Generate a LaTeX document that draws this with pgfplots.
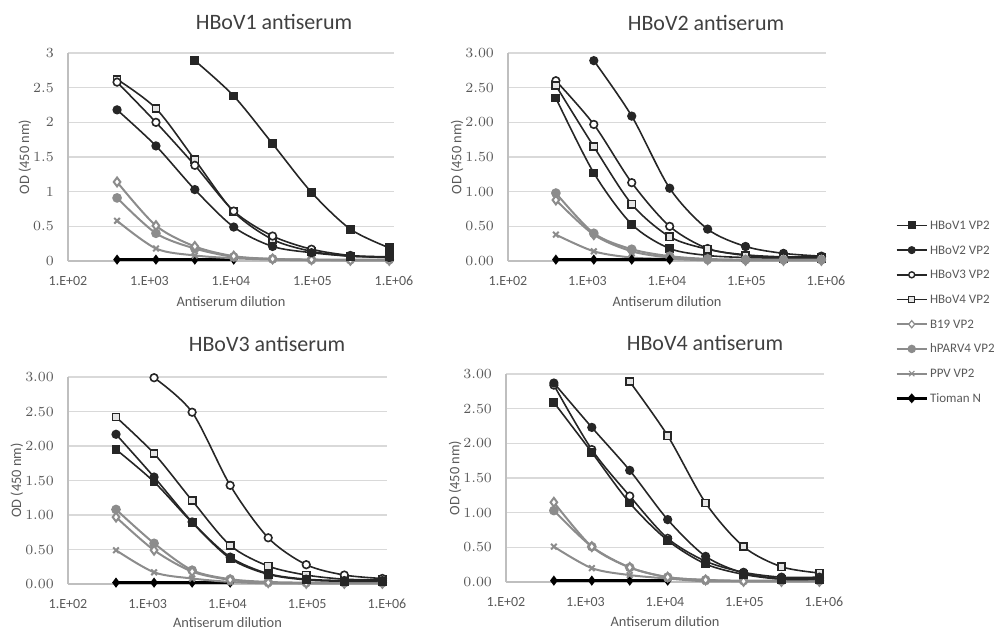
\documentclass[border=0pt]{standalone}
\usepackage{fontspec}
\setmainfont{Carlito}
\usepackage{pgfplots}
\usepackage{pgfplotstable}
\pgfplotsset{compat=1.18}

\definecolor{linedark}{HTML}{262626}
\definecolor{linegray}{HTML}{8C8C8C}
\definecolor{gridgray}{HTML}{D9D9D9}
\definecolor{axisgray}{HTML}{BFBFBF}
\definecolor{labgray}{HTML}{595959}
\definecolor{titlegray}{HTML}{404040}

\newcommand{\tickfont}{\fontsize{7}{8}\selectfont}
\newcommand{\labfont}{\fontsize{7.2}{8}\selectfont}
\newcommand{\legfont}{\fontsize{6.5}{7.5}\selectfont}
\newcommand{\titlefont}{\fontsize{11}{13}\selectfont}

% dilution  HBoV1 HBoV2 HBoV3 HBoV4 B19 hPARV4 PPV Tioman
\pgfplotstableread{
x      V1   V2   V3   V4   B19  P4   PPV  TN
400    nan  2.18 2.58 2.62 1.14 0.91 0.58 0.02
1200   nan  1.66 2.00 2.20 0.51 0.40 0.18 0.02
3600   2.89 1.03 1.38 1.46 0.21 0.18 0.08 0.02
10800  2.38 0.49 0.72 0.71 0.07 0.06 0.04 0.02
32400  1.69 0.21 0.36 0.31 0.03 0.03 0.02 nan
97200  0.99 0.12 0.17 0.14 0.02 0.02 0.01 nan
291600 0.46 0.07 0.08 0.07 0.01 0.02 0.01 nan
874800 0.19 0.05 0.06 0.06 0.01 0.02 0.01 nan
}\tabA
\pgfplotstableread{
x      V1   V2   V3   V4   B19  P4   PPV  TN
400    2.35 nan  2.60 2.53 0.88 0.98 0.38 0.02
1200   1.27 2.89 1.97 1.65 0.38 0.40 0.14 0.02
3600   0.53 2.09 1.13 0.82 0.14 0.17 0.05 0.02
10800  0.18 1.05 0.50 0.35 0.05 0.07 0.03 0.02
32400  0.08 0.46 0.18 0.17 0.02 0.03 0.01 nan
97200  0.05 0.21 0.09 0.08 0.01 0.02 0.01 nan
291600 0.04 0.11 0.06 0.05 0.01 0.02 0.01 nan
874800 0.04 0.07 0.06 0.05 0.01 0.02 0.01 nan
}\tabB
\pgfplotstableread{
x      V1   V2   V3   V4   B19  P4   PPV  TN
400    1.95 2.17 nan  2.42 0.97 1.08 0.49 0.02
1200   1.48 1.55 2.99 1.89 0.49 0.59 0.17 0.02
3600   0.89 0.90 2.49 1.21 0.18 0.20 0.08 0.02
10800  0.37 0.39 1.43 0.56 0.06 0.07 0.03 0.02
32400  0.14 0.15 0.67 0.26 0.02 0.03 0.01 nan
97200  0.06 0.07 0.28 0.13 0.01 0.02 0.01 nan
291600 0.04 0.05 0.13 0.07 0.01 0.02 0.01 nan
874800 0.04 0.05 0.08 0.06 0.01 0.02 0.01 nan
}\tabC
\pgfplotstableread{
x      V1   V2   V3   V4   B19  P4   PPV  TN
400    2.59 2.87 2.84 nan  1.15 1.03 0.51 0.02
1200   1.87 2.23 1.91 nan  0.51 0.51 0.20 0.02
3600   1.14 1.61 1.24 2.89 0.21 0.21 0.10 0.02
10800  0.60 0.90 0.63 2.11 0.07 0.07 0.05 0.02
32400  0.26 0.37 0.30 1.14 0.03 0.03 0.01 nan
97200  0.11 0.13 0.14 0.51 0.01 0.02 0.01 nan
291600 0.04 0.05 0.07 0.22 0.01 0.02 0.01 nan
874800 0.04 0.05 0.07 0.13 0.01 0.02 0.01 nan
}\tabD

% options shared by the four panels
\pgfplotsset{
  every axis/.append style={
    scale only axis, anchor=south west,
    xmin=100, xmax=1e6,
    xtick={100,1000,10000,100000,1000000},
    xticklabels={1.E+02,1.E+03,1.E+04,1.E+05,1.E+06},
    xminorticks=false,
    ymin=0, ymax=3, ytick={0,0.5,1,1.5,2,2.5,3},
    ymajorgrids, grid style={gridgray, line width=0.6pt},
    axis x line=bottom, axis y line=left,
    axis line style={axisgray, line width=0.6pt, -},
    major tick length=0pt,
    tick label style={font=\tickfont, text=labgray},
    xticklabel style={yshift=-4pt},
    yticklabel style={xshift=-3.5pt},
    xlabel={Antiserum dilution}, ylabel={OD (450 nm)},
    label style={font=\labfont, text=labgray},
  },
  twodig/.style={yticklabel style={/pgf/number format/.cd, fixed, fixed zerofill, precision=2}},
  serA/.style={linedark, line width=0.8pt, smooth, mark=square*, mark size=1.8pt, mark options={solid, fill=linedark}},
  serB/.style={linedark, line width=0.8pt, smooth, mark=*, mark size=1.9pt, mark options={solid, fill=linedark}},
  serC/.style={linedark, line width=0.8pt, smooth, mark=*, mark size=1.9pt, mark options={solid, fill=white}},
  serD/.style={linedark, line width=0.8pt, smooth, mark=square*, mark size=1.8pt, mark options={solid, fill=black!10}},
  serE/.style={linegray, line width=1pt, smooth, mark=diamond*, mark size=2.2pt, mark options={solid, fill=white}},
  serF/.style={linegray, line width=1pt, smooth, mark=*, mark size=1.9pt, mark options={solid, fill=linegray}},
  serG/.style={linegray, line width=1pt, smooth, mark=x, mark size=2pt, mark options={solid}},
  serH/.style={black, line width=1.3pt, mark=diamond*, mark size=1.5pt, mark options={solid, fill=black}},
  % legend samples: a 15pt line with a small symbol in its middle
  legA/.style={legend image code/.code={\draw[linedark, line width=0.8pt] (0pt,0pt) -- (15pt,0pt);
    \filldraw[linedark] (5.9pt,-1.6pt) rectangle (9.1pt,1.6pt);}},
  legB/.style={legend image code/.code={\draw[linedark, line width=0.8pt] (0pt,0pt) -- (15pt,0pt);
    \filldraw[linedark] (7.5pt,0pt) circle[radius=1.6pt];}},
  legC/.style={legend image code/.code={\draw[linedark, line width=0.8pt] (0pt,0pt) -- (15pt,0pt);
    \filldraw[draw=linedark, fill=white, line width=0.7pt] (7.5pt,0pt) circle[radius=1.5pt];}},
  legD/.style={legend image code/.code={\draw[linedark, line width=0.8pt] (0pt,0pt) -- (15pt,0pt);
    \filldraw[draw=linedark, fill=black!10, line width=0.7pt] (6pt,-1.5pt) rectangle (9pt,1.5pt);}},
  legE/.style={legend image code/.code={\draw[linegray, line width=1pt] (0pt,0pt) -- (15pt,0pt);
    \filldraw[draw=linegray, fill=white, line width=0.6pt] (7.5pt,-1.8pt) -- (9pt,0pt) -- (7.5pt,1.8pt) -- (6pt,0pt) -- cycle;}},
  legF/.style={legend image code/.code={\draw[linegray, line width=1pt] (0pt,0pt) -- (15pt,0pt);
    \filldraw[linegray] (7.5pt,0pt) circle[radius=1.6pt];}},
  legG/.style={legend image code/.code={\draw[linegray, line width=1pt] (0pt,0pt) -- (15pt,0pt);
    \draw[linegray, line width=0.6pt] (6.2pt,-1.3pt) -- (8.8pt,1.3pt) (6.2pt,1.3pt) -- (8.8pt,-1.3pt);}},
  legH/.style={legend image code/.code={\draw[black, line width=1.3pt] (0pt,0pt) -- (15pt,0pt);
    \filldraw[black] (7.5pt,-1.5pt) -- (8.8pt,0pt) -- (7.5pt,1.5pt) -- (6.2pt,0pt) -- cycle;}},
}

\newcommand{\allseries}[1]{%
  \addplot[serH] table[y=TN]{#1};
  \addplot[serG] table[y=PPV]{#1};
  \addplot[serF] table[y=P4]{#1};
  \addplot[serE] table[y=B19]{#1};
  \addplot[serD] table[y=V4]{#1};
  \addplot[serC] table[y=V3]{#1};
  \addplot[serB] table[y=V2]{#1};
  \addplot[serA] table[y=V1]{#1};
}

\begin{document}
\begin{tikzpicture}
\path[use as bounding box] (0,0) rectangle (497pt,-316.5pt);

% HBoV1 antiserum
\begin{semilogxaxis}[at={(34pt,-130.5pt)}, width=163pt, height=104pt,
  ylabel style={at={(axis description cs:-0.132,0.5)}, anchor=center},
  xlabel style={at={(axis description cs:0.5,-0.197)}, anchor=center}]
\allseries{\tabA}
\end{semilogxaxis}

% HBoV2 antiserum, carries the legend
\begin{semilogxaxis}[twodig, at={(254pt,-130.5pt)}, width=159pt, height=104pt,
  ylabel style={at={(axis description cs:-0.16,0.5)}, anchor=center},
  xlabel style={at={(axis description cs:0.5,-0.197)}, anchor=center},
  legend style={at={(1.217,0.2115)}, anchor=north west, draw=none, fill=none,
    font=\legfont, text=labgray, row sep=4.35pt, column sep=1pt, inner sep=0pt,
    nodes={inner sep=0pt, text height=6pt, text depth=2pt}},
  legend cell align=left]
\addplot[serA, legA] table[y=V1]{\tabB}; \addlegendentry{HBoV1 VP2}
\addplot[serB, legB] table[y=V2]{\tabB}; \addlegendentry{HBoV2 VP2}
\addplot[serC, legC] table[y=V3]{\tabB}; \addlegendentry{HBoV3 VP2}
\addplot[serD, legD] table[y=V4]{\tabB}; \addlegendentry{HBoV4 VP2}
\addplot[serE, legE] table[y=B19]{\tabB}; \addlegendentry{B19 VP2}
\addplot[serF, legF] table[y=P4]{\tabB}; \addlegendentry{hPARV4 VP2}
\addplot[serG, legG] table[y=PPV]{\tabB}; \addlegendentry{PPV VP2}
\addplot[serH, legH] table[y=TN]{\tabB}; \addlegendentry{Tioman N}
\end{semilogxaxis}

% HBoV3 antiserum
\begin{semilogxaxis}[twodig, at={(34pt,-292pt)}, width=159.5pt, height=103.5pt,
  ylabel style={at={(axis description cs:-0.16,0.5)}, anchor=center},
  xlabel style={at={(axis description cs:0.5,-0.188)}, anchor=center}]
\allseries{\tabC}
\end{semilogxaxis}

% HBoV4 antiserum
\begin{semilogxaxis}[twodig, at={(253pt,-291pt)}, width=159pt, height=104pt,
  ylabel style={at={(axis description cs:-0.16,0.5)}, anchor=center},
  xlabel style={at={(axis description cs:0.5,-0.192)}, anchor=center}]
\allseries{\tabD}
\end{semilogxaxis}

\node[font=\titlefont, text=titlegray] at (137pt,-11pt) {HBoV1 antiserum};
\node[font=\titlefont, text=titlegray] at (353pt,-11.5pt) {HBoV2 antiserum};
\node[font=\titlefont, text=titlegray] at (133.5pt,-172pt) {HBoV3 antiserum};
\node[font=\titlefont, text=titlegray] at (352.5pt,-171.5pt) {HBoV4 antiserum};
\end{tikzpicture}
\end{document}
